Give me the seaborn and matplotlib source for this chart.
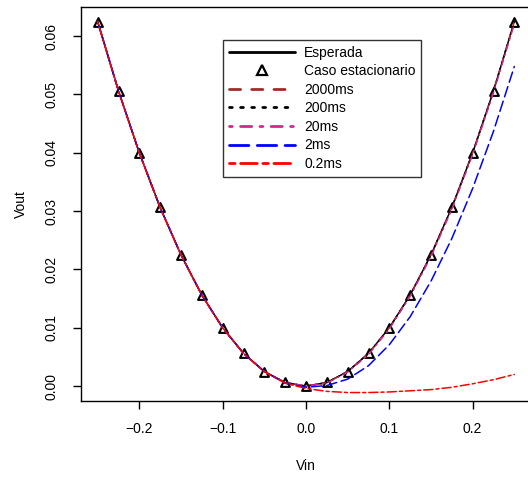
import pandas as pd
import seaborn as sns
import numpy as np
import matplotlib.pyplot as plt
from matplotlib.lines import Line2D

# Values
vin = [-0.25, -0.225, -0.2, -0.175, -0.15, -0.125, -0.1, -0.075, -0.05, -0.025, 0.0,
       0.025, 0.05, 0.075, 0.1, 0.125, 0.15, 0.175, 0.2, 0.225, 0.25]
esperada = [0.0625, 0.050625, 0.04, 0.030625, 0.0225, 0.015625, 0.01, 0.005625, 0.0025, 0.000625, 0.0,
            0.000625, 0.0025, 0.005625, 0.01, 0.015625, 0.0225, 0.030625, 0.04, 0.050625, 0.0625]
estacionario = [0.0625, 0.050625, 0.04, 0.030625, 0.0225, 0.015625, 0.01, 0.005625, 0.0025, 0.000625, 0.0,
                0.000625, 0.0025, 0.005625, 0.01, 0.015625, 0.0225, 0.030625, 0.04, 0.050625, 0.0625]
ms2000 = [0.0625, 0.0506, 0.0400, 0.0306, 0.0225, 0.0156, 0.0100, 0.0056, 0.0025, 0.0006, 0.0,
          0.0006, 0.0025, 0.0056, 0.0100, 0.0156, 0.0225, 0.0306, 0.0400, 0.0506, 0.0625]
ms200 = [0.0625, 0.0506, 0.0400, 0.0306, 0.0225, 0.0156, 0.0100, 0.0056, 0.0025, 0.0006, 0.0,
         0.0006, 0.0025, 0.0056, 0.0100, 0.0156, 0.0225, 0.0306, 0.0400, 0.0506, 0.0625]
ms20 = [0.0625, 0.0506, 0.0400, 0.0306, 0.0225, 0.0156, 0.0100, 0.0056, 0.0025, 0.0006, 0.0,
        0.0005, 0.0024, 0.0054, 0.0098, 0.0154, 0.0222, 0.0303, 0.0397, 0.0503, 0.0621]
ms2 = [0.0625, 0.0506, 0.0400, 0.0306, 0.0225, 0.0156, 0.0100, 0.0056, 0.0025, 0.0005, -0.0002,
       0.0001, 0.0012, 0.0035, 0.0071, 0.0119, 0.0180, 0.0253, 0.0339, 0.0437, 0.0548]
ms02 = [0.0625, 0.0506, 0.0400, 0.0306, 0.0225, 0.0156, 0.0100, 0.0056, 0.0025, 0.0005, -0.0004,
        -0.0009, -0.0011, -0.0011, -0.0010, -0.0008, -0.0006, -0.0002, 0.0004, 0.0011, 0.0020]

plt.rcParams['font.family'] = ['Liberation Sans', 'DejaVu Sans']
plt.rcParams['axes.unicode_minus'] = True
plt.rcParams['lines.dash_capstyle'] = 'round'
plt.rcParams['lines.solid_capstyle'] = 'round'
fs = 10

fig = plt.figure(figsize=(5.28, 4.8), dpi=100)
ax = fig.add_axes([81 / 528, 1 - 400.7 / 480, 450 / 528, 393.7 / 480])

lw = 1.1       # curves
lw_leg = 2.0   # legend keys
series = [
    (esperada, 'black', (4, 0), 'Esperada'),
    (ms2000, '#A52A2A', (4, 4), '2000ms'),
    (ms200, 'black', (1, 3), '200ms'),
    (ms20, '#CD2990', (1, 3, 4, 3), '20ms'),
    (ms2, 'blue', (7, 3), '2ms'),
    (ms02, 'red', (2, 2, 6, 2), '0.2ms'),
]

sns.lineplot(x=vin, y=esperada, ax=ax, color='black', lw=lw)
sns.scatterplot(x=vin, y=estacionario, ax=ax, marker='^', s=40, facecolor='white',
                edgecolor='black', linewidth=1.5, zorder=3)
for vals, col, pat, lab in series[1:]:
    sns.lineplot(x=vin, y=vals, ax=ax, color=col, lw=lw, linestyle=(0, pat), zorder=4)

ax.set_xlim(-0.27, 0.27)
ax.set_ylim(-0.0025, 0.065)
ax.set_xticks([-0.2, -0.1, 0.0, 0.1, 0.2])
ax.set_xticklabels(['\u22120.2', '\u22120.1', '0.0', '0.1', '0.2'])
ax.set_yticks([0.0, 0.01, 0.02, 0.03, 0.04, 0.05, 0.06])
ax.set_yticklabels(['0.00', '0.01', '0.02', '0.03', '0.04', '0.05', '0.06'], rotation=90, va='center')
ax.tick_params(direction='out', length=6, width=1, labelsize=fs, pad=9)
ax.tick_params(axis='y', pad=10)
ax.set_xlabel('Vin', fontsize=fs, labelpad=17)
ax.set_ylabel('Vout', fontsize=fs, labelpad=12)
for sp in ax.spines.values():
    sp.set_linewidth(1)
    sp.set_color('black')
ax.set_facecolor('white')

handles = [Line2D([], [], color='black', lw=lw_leg),
           Line2D([], [], color='black', marker='^', ls='none', markersize=6.5,
                  markerfacecolor='white', markeredgewidth=1.6)]
for vals, col, pat, lab in series[1:]:
    handles.append(Line2D([], [], color=col, lw=lw_leg, linestyle=(0, pat)))
labels = ['Esperada', 'Caso estacionario', '2000ms', '200ms', '20ms', '2ms', '0.2ms']
leg = fig.legend(handles, labels, loc='upper left', bbox_to_anchor=(223 / 528, 1 - 40 / 480),
                 fontsize=fs, frameon=True, fancybox=False, edgecolor='black',
                 handlelength=4.75, handletextpad=0.7, labelspacing=0.33,
                 borderpad=0.4, borderaxespad=0)
leg.get_frame().set_linewidth(1)

fig.savefig('out.png', dpi=100)
